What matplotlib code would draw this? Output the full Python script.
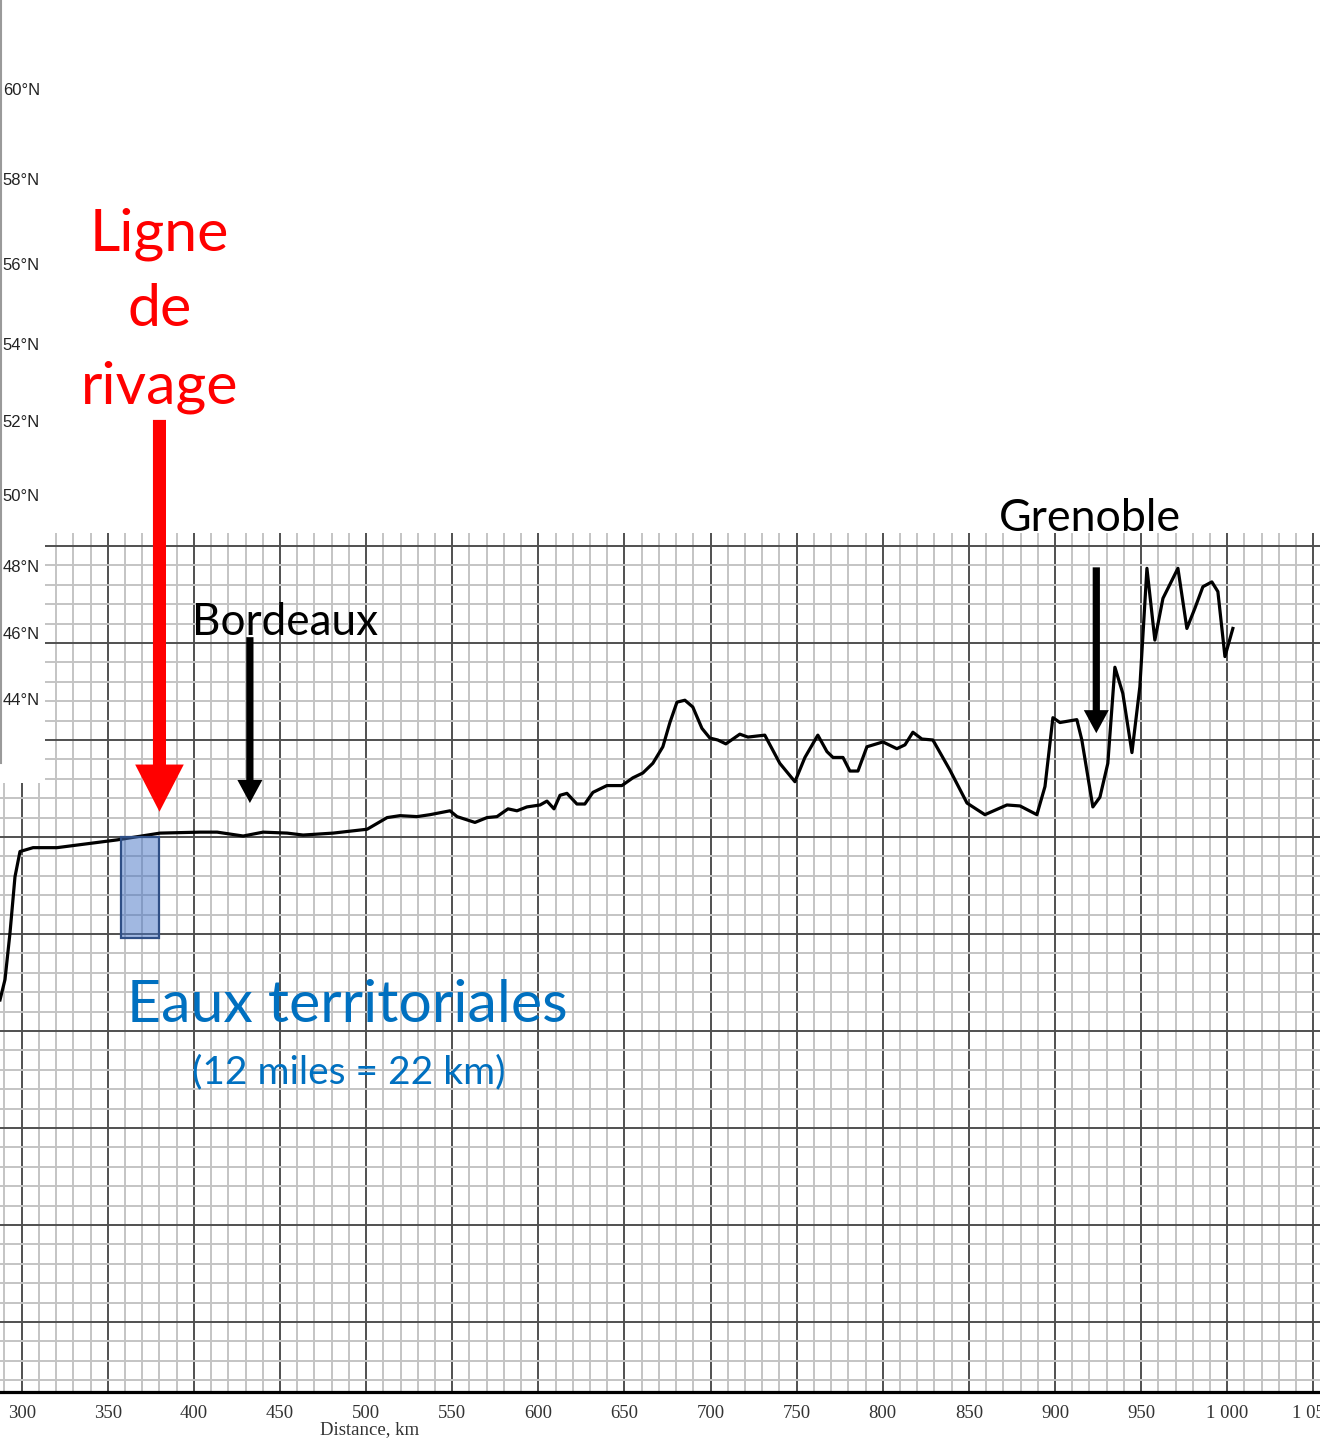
import numpy as np
import matplotlib
matplotlib.use("Agg")
import matplotlib.pyplot as plt
import matplotlib.transforms as mtransforms
from matplotlib.patches import Rectangle, ArrowStyle
from matplotlib.ticker import MultipleLocator, FuncFormatter

# Profile: distance (km) and height (grid units, 100 per big square)
distance_km = [287.4, 290.3, 293.2, 296.1, 299.0, 306.6, 320.5, 355.4, 380.3, 403.6,
               413.5, 428.6, 440.2, 454.1, 463.4, 480.8, 500.6, 512.2, 519.7, 529.6,
               537.1, 548.7, 552.8, 563.2, 570.2, 576.0, 582.4, 587.6, 593.4, 601.0,
               605.0, 609.1, 612.6, 616.6, 622.4, 627.0, 631.7, 639.8, 648.5, 654.9,
               660.7, 666.5, 672.3, 676.4, 680.5, 685.1, 689.7, 695.0, 699.6, 704.2,
               708.9, 717.0, 721.7, 731.5, 740.2, 749.0, 754.8, 762.3, 767.6, 771.1,
               776.9, 780.9, 785.6, 790.8, 800.1, 808.2, 812.9, 817.5, 822.7, 829.1,
               839.0, 848.9, 859.3, 872.1, 879.7, 889.5, 894.2, 898.8, 902.9, 912.7,
               915.6, 922.0, 926.1, 930.7, 934.8, 939.4, 944.7, 949.3, 953.4, 958.0,
               962.7, 971.4, 976.6, 981.3, 985.9, 991.1, 994.6, 998.7, 1003.3]
height = [-168, -147, -99, -41, -15, -11, -11, -3, 4, 5,
          5, 1, 5, 4, 2, 4, 8, 20, 22, 21,
          23, 27, 21, 15, 20, 21, 29, 27, 31, 33,
          37, 29, 43, 45, 34, 34, 46, 53, 53, 61,
          66, 76, 93, 118, 139, 141, 134, 112, 102, 100,
          96, 106, 103, 105, 76, 57, 82, 105, 88, 82,
          82, 68, 68, 93, 98, 91, 95, 108, 101, 100,
          69, 35, 23, 33, 32, 23, 52, 123, 118, 121,
          100, 31, 41, 76, 175, 148, 87, 155, 277, 203,
          246, 277, 215, 236, 258, 263, 253, 186, 215]

# territorial waters (22 km before the shore line)
shore_km = 380
waters_km = 22.5
waters_depth = -104

bordeaux_km = 432.5
grenoble_km = 924

lat_labels = [60, 58, 56, 54, 52, 50, 48, 46, 44]

W, H = 1320, 1440
fig = plt.figure(figsize=(W / 100, H / 100), dpi=100)

# main graph paper
ax = fig.add_axes([0, 48 / H, 1, 859 / H])
ax.set_xlim(287.4, 1053.9)
ax.set_ylim(-572.2, 313.4)

ax.xaxis.set_major_locator(MultipleLocator(50))
ax.xaxis.set_minor_locator(MultipleLocator(10))
ax.yaxis.set_major_locator(MultipleLocator(100))
ax.yaxis.set_minor_locator(MultipleLocator(20))
ax.grid(which="minor", color="#c4c4c4", lw=1.4)
ax.grid(which="major", color="#505050", lw=1.4)
ax.set_axisbelow(True)

ax.xaxis.set_major_formatter(FuncFormatter(lambda v, p: f"{int(v):,}".replace(",", " ")))
ax.tick_params(which="both", length=0)
ax.tick_params(axis="x", pad=9, labelsize=13.5, labelcolor="#333333")
ax.tick_params(axis="y", labelleft=False)
for lab in ax.get_xticklabels():
    lab.set_family("Liberation Serif")
ax.set_xlabel("Distance, km", family="Liberation Serif", fontsize=13.5, color="#333333")
ax.xaxis.set_label_coords(370 / W, -0.034)

for s in ["top", "left", "right"]:
    ax.spines[s].set_visible(False)
ax.spines["bottom"].set_linewidth(2.3)
ax.spines["bottom"].set_color("black")

ax.plot(distance_km, height, color="black", lw=2.3, zorder=3)

ax.add_patch(Rectangle((shore_km - waters_km, waters_depth), waters_km, -waters_depth,
                       facecolor=(0.267, 0.447, 0.769, 0.5), edgecolor="#2f4f86",
                       lw=1.6, zorder=4))

# arrows
red_style = ArrowStyle.Simple(head_length=34, head_width=35, tail_width=9.4)
blk_style = ArrowStyle.Simple(head_length=16.6, head_width=18, tail_width=5.2)
ax.annotate("", xy=(shore_km, 26), xytext=(shore_km, 430), annotation_clip=False,
            arrowprops=dict(arrowstyle=red_style, color="#ff0000", lw=0,
                            shrinkA=0, shrinkB=0, mutation_scale=1), zorder=5)
ax.annotate("", xy=(bordeaux_km, 35), xytext=(bordeaux_km, 206), annotation_clip=False,
            arrowprops=dict(arrowstyle=blk_style, color="black", lw=0,
                            shrinkA=0, shrinkB=0, mutation_scale=1), zorder=5)
ax.annotate("", xy=(grenoble_km, 107), xytext=(grenoble_km, 278), annotation_clip=False,
            arrowprops=dict(arrowstyle=blk_style, color="black", lw=0,
                            shrinkA=0, shrinkB=0, mutation_scale=1), zorder=5)

# labels
font = "Lato"
for txt, y in zip(["Ligne", "de", "rivage"], [605, 527, 447]):
    ax.text(shore_km, y, txt, color="#ff0000", fontsize=42.5, family=font,
            ha="center", va="baseline", zorder=6)
ax.text(399, 208, "Bordeaux", fontsize=31.8, family=font, va="baseline", zorder=6)
ax.text(867.5, 315.5, "Grenoble", fontsize=32.2, family=font, va="baseline", zorder=6)
ax.text(361.2, -191, "Eaux territoriales", color="#0070c0", fontsize=42.5, family=font,
        va="baseline", zorder=6)
ax.text(399, -254, "(12 miles = 22 km)", color="#0070c0", fontsize=28, family=font,
        va="baseline", zorder=6)


# latitude strip on the left (Mercator spacing)
def merc(lat):
    return np.log(np.tan(np.pi / 4 + np.radians(lat) / 2))


def merc_inv(y):
    return np.degrees(2 * np.arctan(np.exp(y)) - np.pi / 2)


ax_lat = fig.add_axes([0, (H - 783) / H, 45 / W, 783 / H])
ax_lat.set_yscale("function", functions=(merc, merc_inv))
ax_lat.set_ylim(41.38, 61.89)
ax_lat.set_xlim(0, 1)
ax_lat.set_facecolor("white")
ax_lat.tick_params(which="both", left=False, labelleft=False, bottom=False, labelbottom=False)
for s in ax_lat.spines.values():
    s.set_visible(False)
ax_lat.axvline(0.025, ymin=20 / 783, ymax=1, color="#9a9a9a", lw=1.5)
trans = mtransforms.blended_transform_factory(ax_lat.transAxes, ax_lat.transData)
for lat in lat_labels:
    ax_lat.text(0.06, lat, f"{lat}°N", transform=trans, fontsize=12,
                family="Liberation Sans", color="#222222", va="center", ha="left")

fig.savefig("out.png", dpi=100)
